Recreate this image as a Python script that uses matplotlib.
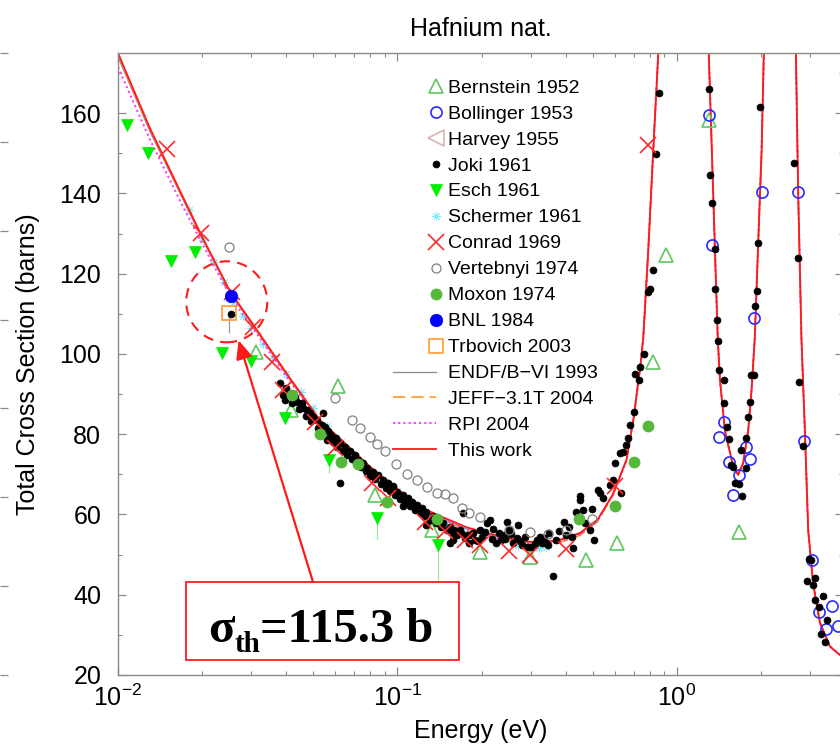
import matplotlib
matplotlib.use("Agg")
import matplotlib.pyplot as plt
import matplotlib.transforms as mtransforms
from matplotlib.lines import Line2D
from matplotlib.legend_handler import HandlerLine2DCompound
from matplotlib.patches import Rectangle, Circle
from matplotlib.ticker import MultipleLocator, NullFormatter

plt.rcParams['font.family'] = ['Liberation Sans', 'DejaVu Sans']
plt.rcParams['mathtext.fontset'] = 'custom'
plt.rcParams['mathtext.rm'] = 'Liberation Sans'
plt.rcParams['mathtext.it'] = 'Liberation Sans:italic'
plt.rcParams['mathtext.bf'] = 'Liberation Sans:bold'

# evaluated curves (energy in eV, total cross section in barns)
E_curve = [0.0100, 0.0130, 0.0170, 0.0200, 0.0253, 0.0300, 0.0412, 0.0528, 0.0650, 0.0798,
           0.100, 0.120, 0.142, 0.177, 0.214, 0.260, 0.298, 0.370, 0.450, 0.520,
           0.590, 0.660, 0.700, 0.740, 0.758, 0.790, 0.823, 0.858, 0.900, 1.25,
           1.30, 1.345, 1.368, 1.40, 1.426, 1.485, 1.59, 1.655, 1.726, 1.80,
           1.85, 1.90, 1.954, 2.01, 2.047, 2.10, 2.60, 2.666, 2.716, 2.79,
           2.87, 2.95, 3.07, 3.25, 3.53, 3.83, 3.93]
res_part = [175.0, 142.6, 126.0, 104.0, 93.5, 81.0, 71.9, 69.9, 72.8, 81.0,
            91.0, 104.0, 127.6, 150.8, 175.0, 200.0, 200.0, 175.0, 140.4, 104.0,
            81.0, 56.1, 43.0, 33.0, 27.1, 25.0, 24.5]
sig_this = [175.0, 156.3, 139.4, 129.2, 115.3, 108.0, 94.0, 83.5, 77.7, 71.9,
            66.4, 61.9, 59.6, 56.8, 55.2, 53.8, 53.2, 53.4, 55.4, 58.7,
            65.0, 73.6, 84.0, 97.0, 104.0, 126.0, 150.8, 175.0, 200.0, 200.0] + res_part
sig_endf = [174.0, 155.5, 138.8, 128.7, 115.0, 107.6, 93.7, 83.2, 77.3, 71.5,
            66.0, 61.5, 59.2, 56.4, 54.8, 53.5, 52.9, 53.2, 55.2, 58.6,
            65.0, 73.6, 84.0, 97.0, 104.0, 126.0, 150.8, 175.0, 200.0, 200.0] + res_part
sig_jeff = [174.5, 156.0, 139.0, 129.0, 115.2, 107.8, 93.6, 83.0, 77.0, 71.2,
            65.6, 61.2, 58.9, 56.0, 54.5, 53.0, 52.4, 52.7, 54.8, 58.2,
            64.8, 73.4, 84.0, 97.0, 104.0, 126.0, 150.8, 175.0, 200.0, 200.0] + res_part
sig_rpi = [171.5, 153.5, 137.0, 127.5, 114.2, 107.0, 93.2, 83.0, 77.2, 71.3,
           65.9, 61.4, 59.1, 56.3, 54.6, 53.2, 52.6, 52.9, 55.0, 58.4,
           64.9, 73.5, 84.0, 97.0, 104.0, 126.0, 150.8, 175.0, 200.0, 200.0] + res_part

# measurements
E_bern = [0.0313, 0.0417, 0.0614, 0.0831, 0.133, 0.197, 0.298, 0.471, 0.61, 0.823, 0.915, 1.30, 1.67]
s_bern = [100.5, 86.0, 91.9, 64.9, 56.2, 50.6, 49.5, 48.7, 53.0, 98.1, 124.7, 158.3, 55.7]

E_boll = [1.30, 1.34, 2.01, 2.71, 1.89, 1.48, 1.42, 1.54, 1.67, 1.59, 1.76, 1.83,
          2.86, 3.04, 3.22, 3.43, 3.58, 3.78]
s_boll = [159.5, 127.2, 140.4, 140.4, 108.9, 83.0, 79.3, 73.2, 69.9, 64.9, 76.8, 73.9,
          78.3, 48.7, 35.8, 31.5, 37.1, 32.3]

E_harv = []
s_harv = []

E_joki = [0.0253, 0.038, 0.039, 0.040, 0.041, 0.043, 0.0436, 0.0454, 0.046, 0.0473,
          0.0486, 0.050, 0.0514, 0.0535, 0.0542, 0.055, 0.0558, 0.0565, 0.058, 0.0605,
          0.0622, 0.0622, 0.0647, 0.0676, 0.0703, 0.072, 0.073, 0.075, 0.078, 0.0817,
          0.085, 0.089, 0.0925, 0.0962, 0.100, 0.1045, 0.1045, 0.1087, 0.113, 0.1177,
          0.1224, 0.127, 0.127, 0.1345, 0.140, 0.1455, 0.1541, 0.154, 0.158, 0.158,
          0.160, 0.167, 0.169, 0.172, 0.177, 0.180, 0.186, 0.190, 0.197, 0.200,
          0.210, 0.214, 0.220, 0.230, 0.235, 0.240, 0.246, 0.250, 0.260, 0.267,
          0.270, 0.280, 0.285, 0.300, 0.315, 0.324, 0.330, 0.340, 0.350, 0.360,
          0.370, 0.380, 0.395, 0.400, 0.410, 0.420, 0.425, 0.435, 0.450, 0.450,
          0.460, 0.470, 0.488, 0.495, 0.505, 0.520, 0.530, 0.545, 0.575, 0.590,
          0.600, 0.625, 0.630, 0.640, 0.660, 0.670, 0.680, 0.700, 0.710, 0.730,
          0.740, 0.761, 0.786, 0.800, 0.820, 0.840, 0.862,
          0.0395, 0.042, 0.0445, 0.047, 0.049, 0.052, 0.054, 0.057, 0.059, 0.061,
          0.064, 0.066, 0.069, 0.071, 0.074, 0.077, 0.080, 0.083, 0.087, 0.091,
          0.094, 0.098, 0.102, 0.106, 0.111, 0.116, 0.121, 0.125, 0.131, 0.137,
          0.143, 0.150, 0.163, 0.175, 0.183, 0.195, 0.205, 0.218, 0.225, 0.243,
          0.255, 0.275, 0.290, 0.310, 0.335, 0.345,
          1.30, 1.31, 1.34, 1.37, 1.37, 1.39, 1.40, 1.41, 1.47, 1.48,
          1.51, 1.53, 1.56, 1.59, 1.61, 1.67, 1.71, 1.76, 1.69, 1.77,
          1.80, 1.82, 1.84, 1.88, 1.90, 1.93, 1.95, 1.98,
          2.63, 2.72, 2.74, 2.82, 2.93, 2.97, 3.02, 3.07, 3.12, 3.13,
          3.23, 3.28, 3.34, 3.39, 3.45]
s_joki = [110.0, 92.7, 89.8, 91.5, 90.2, 89.4, 88.1, 87.7, 86.5, 86.0,
          85.2, 84.4, 83.6, 82.3, 85.2, 81.9, 78.6, 80.7, 79.8, 79.0,
          77.8, 67.8, 76.9, 75.7, 74.9, 73.6, 72.0, 72.8, 71.6, 70.7,
          69.9, 68.6, 67.8, 67.0, 65.7, 64.9, 62.0, 64.1, 63.2, 62.4,
          61.6, 60.7, 57.5, 59.5, 58.7, 57.8, 57.0, 52.9, 55.4, 53.7,
          56.2, 56.2, 55.4, 60.3, 55.0, 52.9, 55.4, 53.7, 56.2, 54.5,
          57.8, 58.7, 56.5, 55.4, 53.7, 55.0, 58.2, 56.2, 53.0, 54.1,
          57.4, 52.5, 54.5, 52.0, 53.7, 54.5, 52.9, 53.0, 55.5, 44.7,
          53.7, 56.0, 58.1, 55.0, 57.0, 54.5, 51.6, 60.7, 64.6, 63.6,
          61.2, 57.8, 56.2, 61.3, 53.6, 66.1, 65.3, 64.1, 67.4, 68.6,
          72.8, 75.3, 65.3, 75.6, 77.3, 79.0, 82.3, 85.5, 95.0, 93.5,
          96.7, 99.9, 115.5, 116.1, 120.8, 149.8, 165.1,
          88.5, 87.8, 86.2, 84.6, 83.2, 81.6, 80.6, 79.0, 78.0, 76.8,
          75.8, 74.9, 73.9, 73.0, 71.8, 70.9, 69.6, 68.8, 67.6, 66.6,
          65.8, 64.8, 63.9, 63.0, 62.0, 61.2, 60.3, 59.6, 58.7, 57.8,
          57.0, 56.2, 55.0, 54.2, 54.8, 53.5, 55.6, 54.0, 53.0, 53.8,
          55.2, 53.4, 51.8, 52.7, 54.2, 52.5,
          166.0, 144.7, 137.6, 126.2, 116.1, 108.5, 103.3, 96.0, 93.4, 87.7,
          81.9, 78.8, 72.4, 71.8, 67.8, 67.6, 64.7, 71.5, 76.1, 79.0,
          84.2, 88.1, 94.8, 94.8, 112.0, 115.8, 127.6, 161.5,
          147.7, 123.9, 93.0, 77.1, 43.5, 48.9, 48.7, 42.5, 44.1, 38.6,
          37.0, 30.3, 39.6, 28.3, 33.6]

E_esch = [0.0108, 0.0128, 0.0155, 0.0188, 0.0235, 0.030, 0.0395, 0.057, 0.0845, 0.140]
s_esch = [157.1, 150.2, 123.2, 125.5, 100.3, 98.3, 84.0, 73.6, 59.0, 52.4]
esch_err_lo = [0, 0, 0, 0, 0, 0, 0, 3.2, 5.0, 8.7]

E_sche = [0.018, 0.020, 0.022, 0.024, 0.026, 0.028, 0.030, 0.033, 0.036, 0.040,
          0.045, 0.050, 0.056, 0.063, 0.071, 0.080, 0.090, 0.100, 0.115, 0.130,
          0.150, 0.170, 0.200, 0.230, 0.270, 0.320, 0.340]
s_sche = [136.0, 129.0, 123.0, 118.0, 113.0, 109.5, 106.5, 102.5, 99.0, 95.0,
          90.5, 86.5, 82.0, 78.0, 74.5, 71.0, 68.0, 65.8, 62.5, 60.0,
          57.5, 56.0, 54.5, 53.5, 52.5, 51.6, 52.0]

E_conr = [0.015, 0.0198, 0.0255, 0.0303, 0.0355, 0.039, 0.0506, 0.0597, 0.081, 0.0925,
          0.125, 0.148, 0.174, 0.197, 0.250, 0.297, 0.400, 0.600, 0.790]
s_conr = [151.1, 130.1, 115.5, 106.7, 98.1, 91.0, 83.1, 76.5, 67.8, 64.1,
          58.2, 55.8, 53.7, 52.4, 50.8, 50.0, 51.4, 67.0, 152.1]

E_vert = [0.025, 0.0597, 0.069, 0.0735, 0.0798, 0.0845, 0.0903, 0.0989, 0.108, 0.117,
          0.128, 0.138, 0.148, 0.158, 0.170, 0.180, 0.197, 0.250, 0.298, 0.345,
          0.400, 0.495]
s_vert = [126.6, 89.0, 83.5, 81.5, 79.4, 77.6, 75.7, 72.6, 70.2, 68.6,
          66.8, 65.3, 65.0, 64.1, 61.6, 60.3, 59.3, 56.2, 55.6, 55.2,
          56.2, 58.9]

E_moxo = [0.0418, 0.0528, 0.0628, 0.0725, 0.0920, 0.138, 0.447, 0.600, 0.700, 0.790]
s_moxo = [89.8, 80.0, 73.2, 72.5, 63.0, 58.8, 58.8, 62.1, 73.2, 82.1]

E_bnl = [0.0253]
s_bnl = [114.4]

E_trbo = [0.0250]
s_trbo = [110.2]
trbo_err_lo = [5.0]

SIG_TH = 115.3
E_CIRC, S_CIRC = 0.0245, 113.0   # centre of the dashed ring

fig = plt.figure(figsize=(8.4, 7.48), dpi=100)
ax = fig.add_axes([118/840, 1-675/748, 725/840, 622/748])

ax.plot(E_curve, sig_endf, color='#8c8c8c', lw=0.9, zorder=2)
ax.plot(E_curve, sig_jeff, color='#ff8c1a', lw=1.1, dashes=(8, 4), zorder=2)
ax.plot(E_curve, sig_rpi, color='#ff3cff', lw=1.5, ls=(0, (1, 1.5)), zorder=2)
ax.plot(E_curve, sig_this, color='#ff1a1a', lw=1.3, zorder=2)

ax.errorbar(E_esch, s_esch, yerr=[esch_err_lo, [0]*len(E_esch)], fmt='none',
            ecolor='#8cf08c', elinewidth=0.9, capsize=0, zorder=2)
ax.errorbar(E_trbo, s_trbo, yerr=[trbo_err_lo, [0]], fmt='none',
            ecolor='#999999', elinewidth=0.9, capsize=0, zorder=2)

h = {}
h['Bernstein 1952'] = ax.plot(E_bern, s_bern, ls='none', marker='^', ms=10, mfc='none', mec='#5ec85e', mew=1.2, zorder=3)[0]
h['Bollinger 1953'] = ax.plot(E_boll, s_boll, ls='none', marker='o', ms=8, mfc='none', mec='#2a2aff', mew=1.2, zorder=3)[0]
h['Harvey 1955'] = ax.plot(E_harv, s_harv, ls='none', marker='<', ms=12, mfc='none', mec='#d8b4b4', mew=1.2, zorder=3)[0]
h['Joki 1961'] = ax.plot(E_joki, s_joki, ls='none', marker='o', ms=5, mfc='black', mec='black', mew=0.5, zorder=3)[0]
h['Esch 1961'] = ax.plot(E_esch, s_esch, ls='none', marker='v', ms=9, mfc='#00ee00', mec='#00ee00', mew=0.5, zorder=3)[0]
h['Schermer 1961'] = ax.plot(E_sche, s_sche, ls='none', marker=(8, 2, 0), ms=6, mec='#80e8f8', mew=0.7, zorder=1.9)[0]
h['Conrad 1969'] = ax.plot(E_conr, s_conr, ls='none', marker='x', ms=11, mec='#ff2a2a', mew=1.2, zorder=3)[0]
h['Vertebnyi 1974'] = ax.plot(E_vert, s_vert, ls='none', marker='o', ms=6.5, mfc='none', mec='#808080', mew=0.9, zorder=3)[0]
h['Moxon 1974'] = ax.plot(E_moxo, s_moxo, ls='none', marker='o', ms=8, mfc='#55b83a', mec='#55b83a', mew=0.5, zorder=3)[0]
h['BNL 1984'] = ax.plot(E_bnl, s_bnl, ls='none', marker='o', ms=9, mfc='#0000ff', mec='#0000ff', mew=0.5, zorder=3)[0]
h['Trbovich 2003'] = ax.plot(E_trbo, s_trbo, ls='none', marker='s', ms=10, mfc='none', mec='#ff9a30', mew=1.2, zorder=2.9)[0]
h['ENDF/B\u2212VI 1993'] = Line2D([], [], color='#8c8c8c', lw=0.9)
h['JEFF\u22123.1T 2004'] = Line2D([], [], color='#ff8c1a', lw=1.1, dashes=(8, 4))
h['RPI 2004'] = Line2D([], [], color='#ff3cff', lw=1.5, ls=(0, (1, 1.5)))
h['This work'] = Line2D([], [], color='#ff1a1a', lw=1.3)


class EndMarker(HandlerLine2DCompound):
    # marker drawn at the right end of the handle, as in the original
    def get_xdata(self, legend, xdescent, ydescent, width, height, fontsize):
        xdata, _ = super().get_xdata(legend, xdescent, ydescent, width, height, fontsize)
        return xdata, [-xdescent + width]


ax.legend(list(h.values()), list(h.keys()), loc='upper left',
          bbox_to_anchor=(393/840, 1-79/748), bbox_transform=fig.transFigure,
          frameon=False, fontsize=14, handlelength=2.2, handletextpad=0.65,
          labelspacing=0.43, borderpad=0, borderaxespad=0, numpoints=1,
          handler_map={Line2D: EndMarker()})

ax.set_xscale('log')
ax.set_xlim(0.01, 3.93)
ax.set_ylim(20, 175)
ax.yaxis.set_major_locator(MultipleLocator(20))
ax.yaxis.set_minor_locator(MultipleLocator(10))
ax.xaxis.set_minor_formatter(NullFormatter())
ax.tick_params(which='both', direction='in', top=True, right=True, color='#8a8a8a', labelcolor='black')
ax.tick_params(which='major', length=6, width=0.9, labelsize=18)
ax.tick_params(which='minor', length=3, width=0.8)
ax.tick_params(axis='y', pad=12)
ax.tick_params(axis='x', pad=7)
for sp in ax.spines.values():
    sp.set_color('#8a8a8a')
    sp.set_linewidth(1.0)

ax.set_xlabel('Energy (eV)', fontsize=18, labelpad=6)
ax.set_ylabel('Total Cross Section (barns)', fontsize=18, labelpad=14)
ax.set_title('Hafnium nat.', fontsize=18, pad=12)

# leftover tick marks of a neighbouring panel at the far left edge
edge = fig.add_axes([-0.1, 1-675/748, 0.1, 622/748])
edge.set_ylim(0, 7)
edge.set_yticks(range(8))
edge.set_xticks([])
edge.tick_params(axis='y', left=False, right=True, labelleft=False, direction='out',
                 length=5.5, width=0.9, color='#8a8a8a')
for sp in edge.spines.values():
    sp.set_visible(False)
edge.patch.set_visible(False)

# dashed ring around the thermal value
ring_tr = fig.dpi_scale_trans + mtransforms.ScaledTranslation(E_CIRC, S_CIRC, ax.transData)
ring = Circle((0, 0), 0.405, transform=ring_tr, fill=False, ec='#ff1a1a', lw=1.5,
              ls=(0, (5, 3.5)), zorder=10, clip_on=False)
ax.add_patch(ring)

# boxed value and arrow
box = Rectangle((186/840, 1-660/748), 273/840, 78/748, transform=fig.transFigure,
                fc='white', ec='#ff1a1a', lw=1.3, zorder=10, clip_on=False)
ax.add_patch(box)
ax.annotate('', xy=(E_CIRC, S_CIRC), xycoords='data',
            xytext=(313/840, 1-582/748), textcoords='figure fraction',
            arrowprops=dict(arrowstyle='-|>,head_length=0.8,head_width=0.35', color='#ff1a1a',
                            lw=1.6, shrinkA=0, shrinkB=29, mutation_scale=14),
            zorder=10, annotation_clip=False)

serif = dict(fontfamily='Liberation Serif', fontweight='bold', color='black', zorder=11)
t1 = ax.text(208/840, 1-642/748, '\u03c3', transform=fig.transFigure, fontsize=35,
             ha='left', va='baseline', **serif)
t2 = ax.annotate('th', xy=(1, 0), xycoords=t1, xytext=(0, -4.5), textcoords='offset points',
                 fontsize=21, ha='left', va='bottom', annotation_clip=False, **serif)
t3 = ax.annotate(f'={SIG_TH} b', xy=(1, 0), xycoords=(t2, t1), fontsize=35,
                 ha='left', va='bottom', annotation_clip=False, **serif)

fig.savefig('out.png', dpi=100)
